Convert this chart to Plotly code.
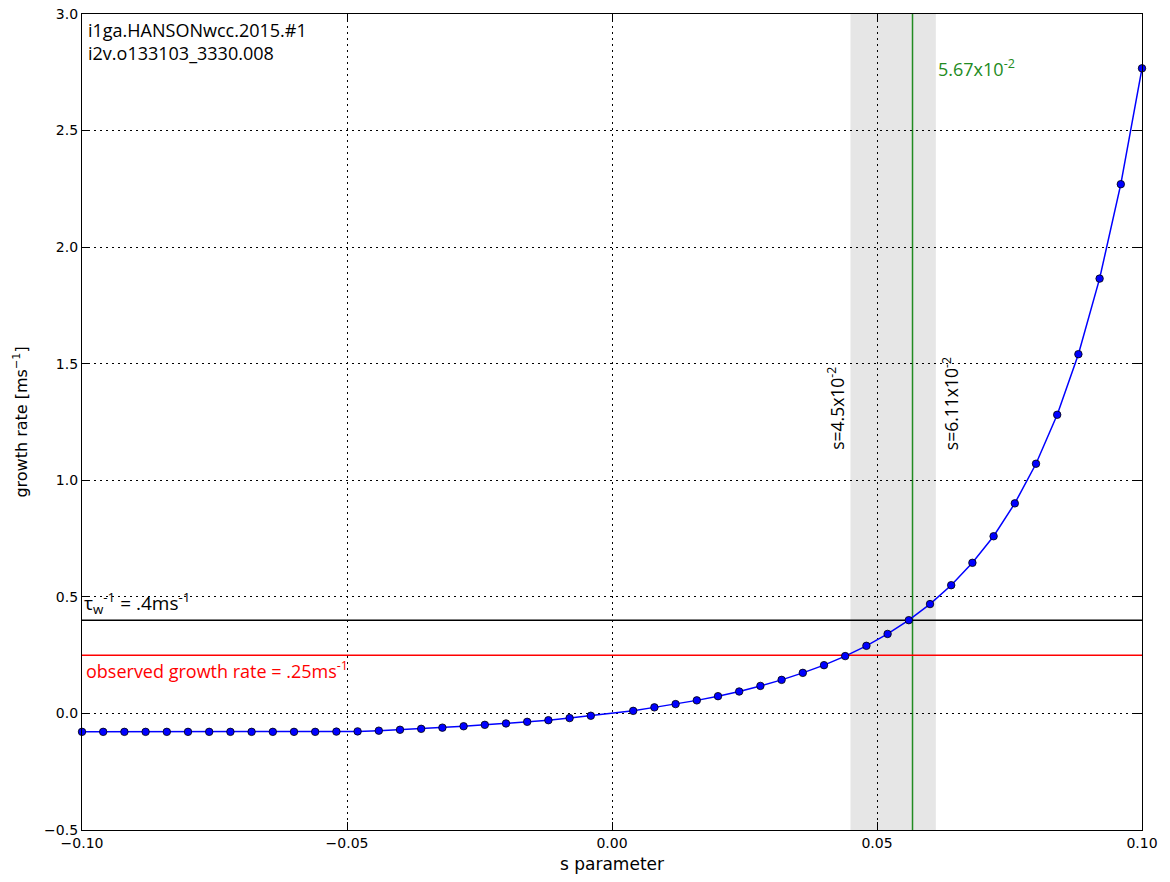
import plotly.graph_objects as go

# s parameter scan (s = 0 is not part of the scan)
s_values = [
    -0.100, -0.096, -0.092, -0.088, -0.084, -0.080, -0.076, -0.072, -0.068, -0.064,
    -0.060, -0.056, -0.052, -0.048, -0.044, -0.040, -0.036, -0.032, -0.028, -0.024,
    -0.020, -0.016, -0.012, -0.008, -0.004,
    0.004, 0.008, 0.012, 0.016, 0.020, 0.024, 0.028, 0.032, 0.036, 0.040,
    0.044, 0.048, 0.052, 0.056, 0.060, 0.064, 0.068, 0.072, 0.076, 0.080,
    0.084, 0.088, 0.092, 0.096, 0.100,
]
growth_rate = [
    -0.079, -0.079, -0.079, -0.079, -0.079, -0.079, -0.079, -0.079, -0.079, -0.079,
    -0.079, -0.079, -0.078, -0.077, -0.074, -0.070, -0.066, -0.061, -0.055, -0.049,
    -0.043, -0.036, -0.029, -0.020, -0.010,
    0.011, 0.026, 0.040, 0.056, 0.074, 0.094, 0.118, 0.144, 0.174, 0.207,
    0.246, 0.290, 0.341, 0.400, 0.469, 0.550, 0.646, 0.760, 0.901, 1.071,
    1.281, 1.541, 1.865, 2.270, 2.767,
]

# reference levels and stability window
tau_w_inv = 0.4
observed_rate = 0.25
s_low = 0.045
s_high = 0.0611
s_cross = 0.0567

x_ticks = [-0.10, -0.05, 0.00, 0.05, 0.10]
y_ticks = [-0.5, 0.0, 0.5, 1.0, 1.5, 2.0, 2.5, 3.0]

TEXT_FONT = "Open Sans"
AXIS_FONT = "DejaVu Sans"

fig = go.Figure()

fig.add_trace(go.Scatter(
    x=s_values, y=growth_rate, mode="lines+markers",
    line=dict(color="#0000ff", width=1.5),
    marker=dict(color="#0000ff", size=7.5, line=dict(color="black", width=0.8)),
    showlegend=False, cliponaxis=False,
))

shapes = [
    dict(type="rect", xref="x", yref="paper", x0=s_low, x1=s_high, y0=0, y1=1,
         fillcolor="#e6e6e6", line=dict(width=0), layer="below"),
    dict(type="line", xref="x", yref="paper", x0=s_cross, x1=s_cross, y0=0, y1=1,
         line=dict(color="#228b22", width=1.5), layer="between"),
    dict(type="line", xref="paper", yref="y", x0=0, x1=1, y0=tau_w_inv, y1=tau_w_inv,
         line=dict(color="black", width=1.5), layer="between"),
    dict(type="line", xref="paper", yref="y", x0=0, x1=1, y0=observed_rate, y1=observed_rate,
         line=dict(color="#ff0000", width=1.5), layer="between"),
]

annotations = [
    dict(xref="paper", yref="paper", x=0.004, y=0.997, xanchor="left", yanchor="top",
         text="i1ga.HANSONwcc.2015.#1<br>i2v.o133103_3330.008", align="left",
         showarrow=False, font=dict(family=TEXT_FONT, size=18, color="black")),
    dict(xref="paper", yref="y", x=0.0, y=tau_w_inv, xanchor="left", yanchor="bottom",
         text="τ<sub>w</sub><sup>-1</sup> = .4ms<sup>-1</sup>", showarrow=False,
         font=dict(family=TEXT_FONT, size=19, color="black")),
    dict(xref="paper", yref="y", x=0.002, y=observed_rate, xanchor="left", yanchor="top",
         text="observed growth rate = .25ms<sup>-1</sup>", showarrow=False,
         font=dict(family=TEXT_FONT, size=18, color="#ff0000")),
    dict(xref="x", yref="y", x=s_low, y=1.12, xanchor="right", yanchor="bottom",
         textangle=-90, text="s=4.5x10<sup>-2</sup>", showarrow=False,
         font=dict(family=TEXT_FONT, size=17.5, color="black")),
    dict(xref="x", yref="y", x=s_high, y=1.12, xanchor="left", yanchor="bottom",
         textangle=-90, text="s=6.11x10<sup>-2</sup>", showarrow=False,
         font=dict(family=TEXT_FONT, size=17.5, color="black")),
    dict(xref="x", yref="y", x=s_high, y=2.77, xanchor="left", yanchor="middle",
         text="5.67x10<sup>-2</sup>", showarrow=False,
         font=dict(family=TEXT_FONT, size=18, color="#228b22")),
]

axis_common = dict(
    showline=True, linecolor="black", linewidth=1.2, mirror="ticks",
    ticks="inside", ticklen=8, tickwidth=1, tickcolor="black",
    showgrid=True, gridcolor="black", gridwidth=1, griddash="2px,4px",
    zeroline=False, automargin=False,
    tickfont=dict(family=AXIS_FONT, size=14, color="black"),
)

fig.update_layout(
    width=1170, height=882,
    margin=dict(l=82, r=28, t=14, b=52),
    paper_bgcolor="white", plot_bgcolor="white",
    shapes=shapes, annotations=annotations,
    xaxis=dict(axis_common, range=[-0.1, 0.1], tickvals=x_ticks, tickformat=".2f",
               title=dict(text="s parameter", font=dict(family=AXIS_FONT, size=17, color="black"),
                          standoff=8)),
    yaxis=dict(axis_common, range=[-0.5, 3.0], tickvals=y_ticks, tickformat=".1f",
               title=dict(text="growth rate [ms<sup>−1</sup>]",
                          font=dict(family=AXIS_FONT, size=16, color="black"), standoff=12)),
)

fig.write_html("out.html")
